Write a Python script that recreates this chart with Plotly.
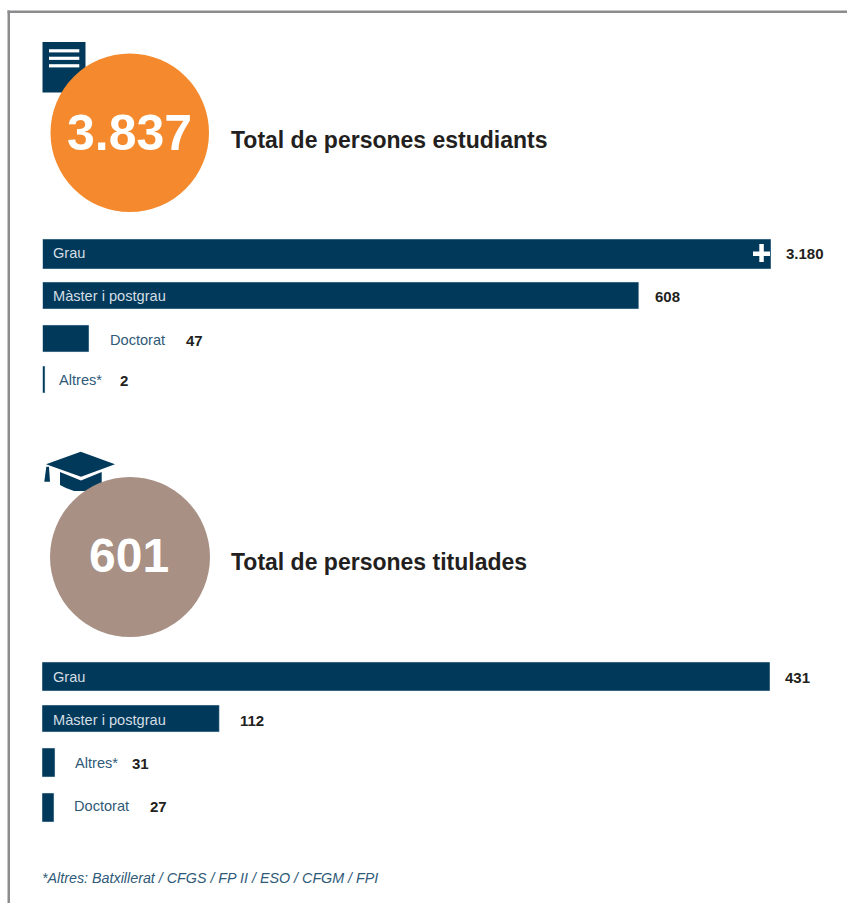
"""Persones estudiants i titulades: dues barres horitzontals amb cercle de total."""
import plotly.graph_objects as go

W, H = 847, 903
NAVY = "#00395A"
ORANGE = "#F48A2D"
TAUPE = "#A89084"
FRAME = "#8C8C8E"
INK = "#231F20"
LABEL = "#2F5A78"
ON_BAR = "#D5DEE4"
SANS = "Liberation Sans"

students_total = "3.837"
students_title = "Total de persones estudiants"
students_labels = ["Grau", "Màster i postgrau", "Doctorat", "Altres*"]
students_counts = [3180, 608, 47, 2]
# the source's bars are not proportional to their counts: lengths
students_lengths = [3180, 2603, 203, 11]

graduates_total = "601"
graduates_title = "Total de persones titulades"
graduates_labels = ["Grau", "Màster i postgrau", "Altres*", "Doctorat"]
graduates_counts = [431, 112, 31, 27]
graduates_lengths = [431, 105, 7.7, 7.1]

footnote = "*Altres: Batxillerat / CFGS / FP II / ESO / CFGM / FPI"


def px(x):
    return x / W


def py(y):
    return 1 - y / H


def fmt(n):
    return f"{n:,}".replace(",", ".")


def note(x, y, text, size, color, bold=False, italic=False, anchor="left"):
    fig.add_annotation(
        x=px(x), y=py(y), xref="paper", yref="paper", text=text, showarrow=False,
        xanchor=anchor, yanchor="middle", borderpad=0,
        font=dict(family=SANS, size=size, color=color,
                  weight="bold" if bold else "normal",
                  style="italic" if italic else "normal"),
    )


def rect(x0, y0, x1, y1, color):
    fig.add_shape(type="rect", xref="paper", yref="paper", x0=px(x0), x1=px(x1),
                  y0=py(y0), y1=py(y1), fillcolor=color, line_width=0, layer="above")


def circle(x0, y0, x1, y1, color):
    fig.add_shape(type="circle", xref="paper", yref="paper", x0=px(x0), x1=px(x1),
                  y0=py(y0), y1=py(y1), fillcolor=color, line_width=0, layer="above")


def path(points, color):
    d = "M" + " L".join(f"{px(x):.5f},{py(y):.5f}" for x, y in points) + " Z"
    fig.add_shape(type="path", xref="paper", yref="paper", path=d,
                  fillcolor=color, line_width=0, layer="above")


fig = go.Figure()

# bars
fig.add_trace(go.Bar(
    y=students_labels, x=students_lengths, orientation="h", marker_color=NAVY,
    width=[0.719, 0.647, 0.647, 0.647], offset=[-0.356, -0.326, -0.297, -0.314],
    xaxis="x", yaxis="y", hoverinfo="skip",
))
fig.add_trace(go.Bar(
    y=graduates_labels, x=graduates_lengths, orientation="h", marker_color=NAVY,
    width=[0.664, 0.618, 0.664, 0.664], offset=[-0.333, -0.349, -0.365, -0.335],
    xaxis="x2", yaxis="y2", hoverinfo="skip",
))

axis_off = dict(visible=False, fixedrange=True)
fig.update_layout(
    width=W, height=H, margin=dict(l=0, r=0, t=0, b=0), showlegend=False,
    paper_bgcolor="white", plot_bgcolor="rgba(0,0,0,0)",
    xaxis=dict(domain=[px(42.5), px(771)], range=[0, 3180], **axis_off),
    yaxis=dict(domain=[py(400), py(233)], autorange="reversed", anchor="x", **axis_off),
    xaxis2=dict(domain=[px(42), px(770)], range=[0, 431], anchor="y2", **axis_off),
    yaxis2=dict(domain=[py(829.5), py(654.7)], autorange="reversed", anchor="x2", **axis_off),
)

# frame
rect(7.5, 10.5, 847, 13, FRAME)
rect(7.5, 10.5, 10, 903, FRAME)

# document icon
rect(42.5, 42, 85.5, 92.5, NAVY)
for y in (50.8, 58.3, 65.8):
    rect(49, y - 1.6, 79.3, y + 1.6, "white")
circle(50.5, 53.5, 209, 212, ORANGE)

# graduation cap icon
path([(60, 472), (60, 485), (66, 488), (74, 491), (88, 491), (96, 488), (101.7, 485), (101.7, 472), (81, 480.5)], NAVY)
path([(46, 464.3), (80.7, 451.7), (115, 464.3), (81, 476.7)], NAVY)
path([(44.3, 481.7), (46.3, 466.7), (49, 466.7), (50, 481.7)], NAVY)
circle(50, 477, 210, 637, TAUPE)

# plus sign on the long bar
rect(753, 251.5, 770, 256, "white")
rect(759.3, 244, 763.8, 262, "white")

# totals and titles
note(129.5, 133, students_total, 50, "white", bold=True, anchor="center")
note(128.5, 555, graduates_total, 48, "white", bold=True, anchor="center")
note(230, 140, students_title, 23, INK, bold=True)
note(230, 561.5, graduates_title, 23, INK, bold=True)

# labels next to the bars
note(52, 253, students_labels[0], 14.6, ON_BAR)
note(52, 296.5, students_labels[1], 14.6, ON_BAR)
note(109, 340, students_labels[2], 14.6, LABEL)
note(58, 380, students_labels[3], 14.6, LABEL)
note(52, 676.5, graduates_labels[0], 14.6, ON_BAR)
note(52, 720, graduates_labels[1], 14.6, ON_BAR)
note(74, 763, graduates_labels[2], 14.6, LABEL)
note(73, 806, graduates_labels[3], 14.6, LABEL)

# counts
for x, y, n in zip((785, 654, 185, 119), (253.5, 296.5, 340, 380), students_counts):
    note(x, y, fmt(n), 15, INK, bold=True)
for x, y, n in zip((784, 239, 131, 149), (677, 720, 763, 806), graduates_counts):
    note(x, y, fmt(n), 15, INK, bold=True)

note(41, 878, footnote, 14.3, LABEL, italic=True)

fig.write_html("out.html", post_script="document.body.style.margin='0';document.body.style.overflow='hidden';",
               config=dict(displayModeBar=False))
